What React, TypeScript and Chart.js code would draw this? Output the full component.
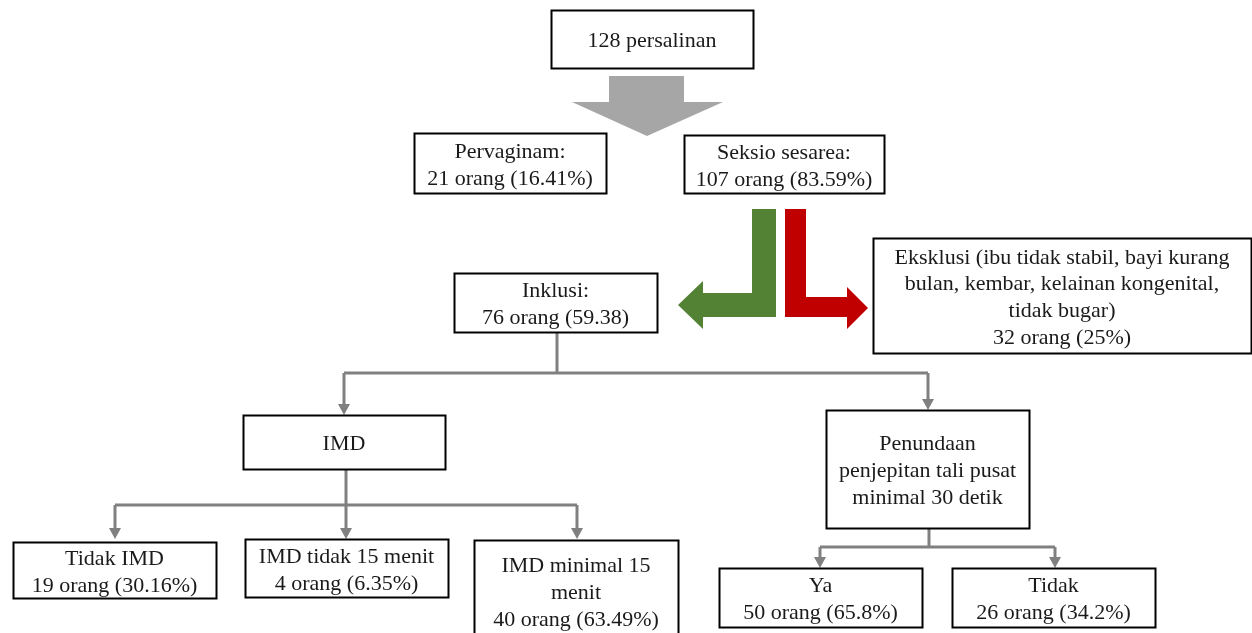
import React, { useEffect, useRef } from "react";
import { Chart, registerables } from "chart.js";

Chart.register(...registerables);

// ---- data (texts / counts) ----
const totalBirths = 128;
const deliveryLabels = ["Pervaginam:", "Seksio sesarea:"];
const deliveryCounts = [21, 107];
const deliveryPercents = ["16.41%", "83.59%"];
const inclusionCount = 76;
const inclusionPercent = "59.38";
const exclusionText = [
  "Eksklusi (ibu tidak stabil, bayi kurang",
  "bulan, kembar, kelainan kongenital,",
  "tidak bugar)",
];
const exclusionCount = 32;
const exclusionPercent = "25%";
const imdLabels = [["Tidak IMD"], ["IMD tidak 15 menit"], ["IMD minimal 15", "menit"]];
const imdCounts = [19, 4, 40];
const imdPercents = ["30.16%", "6.35%", "63.49%"];
const clampTitle = ["Penundaan", "penjepitan tali pusat", "minimal 30 detik"];
const clampLabels = ["Ya", "Tidak"];
const clampCounts = [50, 26];
const clampPercents = ["65.8%", "34.2%"];

// ---- layout (in chart units: x 0..1252, y 0..633 top-down) ----
type Box = [number, number, number, number];
const boxTotal: Box = [551, 10, 753, 68];
const boxDelivery: Box[] = [[414, 133, 606, 193], [684, 135, 884, 193]];
const boxInclusion: Box = [454, 273, 657, 332];
const boxExclusion: Box = [873, 238, 1251, 353];
const boxImd: Box = [243, 415, 445, 469];
const boxImdKids: Box[] = [[13, 542, 216, 598], [245, 539, 448, 597], [474, 540, 678, 642]];
const boxClamp: Box = [826, 410, 1029, 528];
const boxClampKids: Box[] = [[719, 568, 922, 627], [952, 568, 1155, 627]];

const grayArrow = [[609, 76], [684, 76], [684, 102], [723, 102], [647, 136], [572, 102], [609, 102]];
const greenArrow = [[752, 209], [776, 209], [776, 317], [703, 317], [703, 329], [678, 305], [703, 281], [703, 293], [752, 293]];
const redArrow = [[785, 209], [806, 209], [806, 297], [847, 297], [847, 287], [868, 308], [847, 329], [847, 317], [785, 317]];

const W = 1252;
const H = 633;

export default function App() {
  const ref = useRef<HTMLCanvasElement | null>(null);

  useEffect(() => {
    document.body.style.margin = "0";
    if (!ref.current) return;

    const nodes: { box: Box; lines: string[] }[] = [
      { box: boxTotal, lines: [`${totalBirths} persalinan`] },
      ...deliveryLabels.map((l, i) => ({
        box: boxDelivery[i],
        lines: [l, `${deliveryCounts[i]} orang (${deliveryPercents[i]})`],
      })),
      { box: boxInclusion, lines: ["Inklusi:", `${inclusionCount} orang (${inclusionPercent})`] },
      { box: boxExclusion, lines: [...exclusionText, `${exclusionCount} orang (${exclusionPercent})`] },
      { box: boxImd, lines: ["IMD"] },
      ...imdLabels.map((l, i) => ({
        box: boxImdKids[i],
        lines: [...l, `${imdCounts[i]} orang (${imdPercents[i]})`],
      })),
      { box: boxClamp, lines: clampTitle },
      ...clampLabels.map((l, i) => ({
        box: boxClampKids[i],
        lines: [l, `${clampCounts[i]} orang (${clampPercents[i]})`],
      })),
    ];

    const flowPlugin = {
      id: "flow",
      beforeDraw(chart: any) {
        const c = chart.ctx;
        c.save();
        c.fillStyle = "#ffffff";
        c.fillRect(0, 0, chart.width, chart.height);
        c.restore();
      },
      afterDraw(chart: any) {
        const c: CanvasRenderingContext2D = chart.ctx;
        const sx = (v: number) => chart.scales.x.getPixelForValue(v);
        const sy = (v: number) => chart.scales.y.getPixelForValue(v);

        const poly = (pts: number[][], fill: string) => {
          c.beginPath();
          pts.forEach((p, i) => (i ? c.lineTo(sx(p[0]), sy(p[1])) : c.moveTo(sx(p[0]), sy(p[1]))));
          c.closePath();
          c.fillStyle = fill;
          c.fill();
        };

        c.save();
        // block arrows
        poly(grayArrow, "#a6a6a6");
        poly(greenArrow, "#548235");
        poly(redArrow, "#c00000");

        // connectors
        const lineCol = "#808080";
        c.strokeStyle = lineCol;
        c.lineWidth = 3;
        const seg = (x1: number, y1: number, x2: number, y2: number) => {
          c.beginPath();
          c.moveTo(sx(x1), sy(y1));
          c.lineTo(sx(x2), sy(y2));
          c.stroke();
        };
        const head = (x: number, yTip: number) => {
          c.beginPath();
          c.moveTo(sx(x - 6), sy(yTip - 11));
          c.lineTo(sx(x + 6), sy(yTip - 11));
          c.lineTo(sx(x), sy(yTip));
          c.closePath();
          c.fillStyle = lineCol;
          c.fill();
        };
        const cx = (b: Box) => (b[0] + b[2]) / 2;

        // inclusion -> IMD / clamp
        const yBus1 = 373;
        seg(557, boxInclusion[3], 557, yBus1);
        seg(344, yBus1, 928, yBus1);
        seg(344, yBus1, 344, boxImd[1] - 8);
        head(344, boxImd[1]);
        seg(928, yBus1, 928, boxClamp[1] - 8);
        head(928, boxClamp[1]);

        // IMD -> children
        const yBus2 = 505;
        seg(346, boxImd[3], 346, yBus2);
        const imdX = [115, 346, 577];
        seg(imdX[0], yBus2, imdX[2], yBus2);
        imdX.forEach((x) => {
          seg(x, yBus2, x, 539 - 8);
          head(x, 539);
        });

        // clamp -> children
        const yBus3 = 547;
        seg(929, boxClamp[3], 929, yBus3);
        const clX = [820, 1055];
        seg(clX[0], yBus3, clX[1], yBus3);
        clX.forEach((x) => {
          seg(x, yBus3, x, boxClampKids[0][1] - 8);
          head(x, boxClampKids[0][1]);
        });

        // boxes + text
        c.font = "22px 'Liberation Serif', 'Times New Roman', serif";
        c.textAlign = "center";
        c.textBaseline = "middle";
        const lh = 26.8;
        nodes.forEach((n) => {
          const [x1, y1, x2, y2] = n.box;
          const px1 = Math.round(sx(x1)) + 0.5;
          const py1 = Math.round(sy(y1)) + 0.5;
          const px2 = Math.round(sx(x2)) + 0.5;
          const py2 = Math.round(sy(y2)) + 0.5;
          c.fillStyle = "#ffffff";
          c.fillRect(px1, py1, px2 - px1, py2 - py1);
          c.strokeStyle = "#000000";
          c.lineWidth = 2;
          c.strokeRect(px1, py1, px2 - px1, py2 - py1);
          c.fillStyle = "#1a1a1a";
          const midY = (y1 + y2) / 2 + 2.5;
          const startY = midY - ((n.lines.length - 1) * lh) / 2;
          n.lines.forEach((t, i) => {
            c.fillText(t, sx(cx(n.box)), sy(startY + i * lh));
          });
        });
        c.restore();
      },
    };

    const chart = new Chart(ref.current, {
      type: "scatter",
      data: { datasets: [{ data: [] }] },
      options: {
        animation: false,
        responsive: true,
        maintainAspectRatio: false,
        layout: { padding: 0 },
        plugins: { legend: { display: false }, tooltip: { enabled: false } },
        scales: {
          x: { type: "linear", min: 0, max: W, display: false },
          y: { type: "linear", min: 0, max: H, reverse: true, display: false },
        },
      },
      plugins: [flowPlugin],
    });
    return () => chart.destroy();
  }, []);

  return (
    <div style={{ position: "absolute", left: 0, top: 0, width: W, height: H }}>
      <canvas ref={ref} />
    </div>
  );
}
